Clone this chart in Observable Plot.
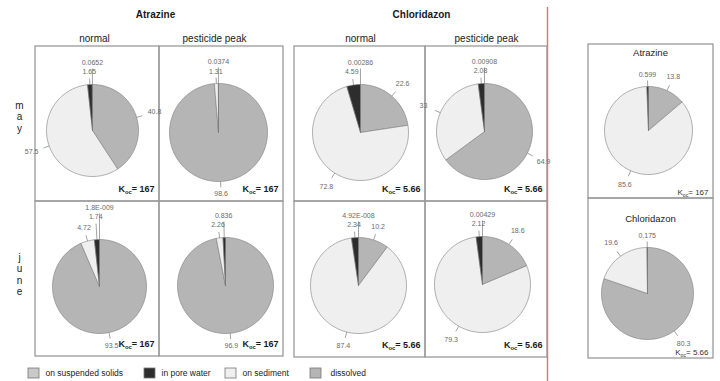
<!DOCTYPE html>
<html><head><meta charset="utf-8">
<script src="https://cdn.jsdelivr.net/npm/d3@7"></script>
<script src="https://cdn.jsdelivr.net/npm/@observablehq/plot@0.6"></script>
<style>body{margin:0;background:#fff}#chart svg{display:block}</style>
</head><body><div id="chart"></div>
<script>
// ---------- data ----------
const fractions = ["on suspended solids", "in pore water", "on sediment", "dissolved"];
const compounds = ["Atrazine", "Chloridazon"];
const scenarios = ["normal", "pesticide peak"];
const months = ["may", "june"];
const kocValues = [167, 5.66];
// percentages per pie, in the order of `fractions` (null = not shown)
const atrazineMayNormal = [0.0652, 1.65, 57.5, 40.8];
const atrazineMayPeak = [null, 0.0374, 1.31, 98.6];
const chloridazonMayNormal = [0.00286, 4.59, 72.8, 22.6];
const chloridazonMayPeak = [0.00908, 2.08, 33, 64.9];
const atrazineJuneNormal = [1.8e-9, 1.74, 4.72, 93.5];
const atrazineJunePeak = [null, 0.836, 2.26, 96.9];
const chloridazonJuneNormal = [4.92e-8, 2.34, 87.4, 10.2];
const chloridazonJunePeak = [0.00429, 2.12, 79.3, 18.6];
const atrazineRight = [null, 0.599, 85.6, 13.8];
const chloridazonRight = [null, 0.175, 19.6, 80.3];

// ---------- layout ----------
const colors = ["#c9c9c9", "#2d2d2d", "#efefef", "#b5b5b5"];
const pies = [
  {values: atrazineMayNormal, cx: 92, cy: 130, r: 46, koc: 0, box: [35, 46, 159, 201]},
  {values: atrazineMayPeak, cx: 218, cy: 132, r: 49, koc: 0, box: [159, 46, 283, 201]},
  {values: chloridazonMayNormal, cx: 360, cy: 132, r: 48, koc: 1, box: [294, 46, 425, 201]},
  {values: chloridazonMayPeak, cx: 484, cy: 131, r: 48, koc: 1, box: [425, 46, 547, 201]},
  {values: atrazineJuneNormal, cx: 99, cy: 286, r: 47, koc: 0, box: [35, 201, 159, 356]},
  {values: atrazineJunePeak, cx: 225, cy: 285, r: 48, koc: 0, box: [159, 201, 283, 356]},
  {values: chloridazonJuneNormal, cx: 358, cy: 285, r: 48, koc: 1, box: [294, 201, 425, 357]},
  {values: chloridazonJunePeak, cx: 482, cy: 284, r: 48, koc: 1, box: [425, 201, 547, 357]},
  {values: atrazineRight, cx: 648, cy: 130, r: 44, koc: 0, box: [588, 44, 713, 198], light: true},
  {values: chloridazonRight, cx: 647, cy: 293, r: 46, koc: 1, box: [588, 198, 713, 358], light: true}
];

const fmt = v => {
  if (v < 1e-4) {
    const e = Math.floor(Math.log10(v));
    return d3.format(".3~g")(v / 10 ** e) + "E-" + String(-e).padStart(3, "0");
  }
  return d3.format(".3~g")(v);
};

const sliceRows = [], labelRows = [], leaderRows = [], kocRows = [];
pies.forEach((p, pi) => {
  const order = [3, 2, 1, 0]; // clockwise from 12 o'clock
  const total = d3.sum(p.values, v => v ?? 0);
  let a0 = 0;
  const placed = [];
  for (const i of order) {
    const v = p.values[i];
    if (v == null) continue;
    const a1 = a0 + v / total * 2 * Math.PI;
    const id = pi + "-" + i;
    const fraction = fractions[i];
    sliceRows.push({id, fraction, x: p.cx, y: p.cy});
    const n = Math.max(1, Math.ceil((a1 - a0) / (Math.PI / 90)));
    for (let k = 0; k <= n; k++) {
      const a = a0 + (a1 - a0) * k / n;
      sliceRows.push({id, fraction, x: p.cx + p.r * Math.sin(a), y: p.cy - p.r * Math.cos(a)});
    }
    sliceRows.push({id, fraction, x: p.cx, y: p.cy});
    const m = (a0 + a1) / 2, s = Math.sin(m), c = Math.cos(m);
    const text = fmt(v);
    const w = text.length * 3.7 + 2, h = 8;
    const d0 = p.r + 12 + 7 * Math.abs(s);
    let d = d0;
    let pos = {x: p.cx + d * s, y: p.cy - d * c};
    while (placed.some(q => Math.abs(q.x - pos.x) < (q.w + w) / 2 && Math.abs(q.y - pos.y) < h + 1)) {
      d += 10;
      pos = {x: p.cx + d * s, y: p.cy - d * c};
    }
    placed.push({...pos, w});
    labelRows.push({x: pos.x, y: pos.y, text});
    const e = p.r + 6 + (d - d0);
    leaderRows.push({x1: p.cx + p.r * s, y1: p.cy - p.r * c, x2: p.cx + e * s, y2: p.cy - e * c});
    a0 = a1;
  }
  kocRows.push({x: p.box[2] - 5, y: p.light ? p.box[3] - 6 : p.box[3] - 12, text: "Koc= " + fmt(kocValues[p.koc]), light: !!p.light});
});

const panelBoxes = pies.map(p => ({x1: p.box[0], y1: p.box[1], x2: p.box[2], y2: p.box[3]}));

const titleRows = [
  {text: compounds[0], x: 155, y: 14}, {text: compounds[1], x: 421, y: 14}
];
const headerRows = [
  {text: scenarios[0], x: 94, y: 38}, {text: scenarios[1], x: 214, y: 38},
  {text: scenarios[0], x: 360, y: 38}, {text: scenarios[1], x: 486, y: 38}
];
const rightTitleRows = [
  {text: compounds[0], x: 650, y: 52}, {text: compounds[1], x: 650, y: 218}
];
const monthLetters = [];
months.forEach((mo, mi) => {
  const y0 = mi === 0 ? 105 : 257;
  [...mo].forEach((ch, k) => monthLetters.push({text: ch, x: 19, y: y0 + k * 11.5}));
});
const legendSwatchX = [28, 144, 225, 310];
const legendTextX = [45, 161, 242, 330];
const legendRows = fractions.map((f, i) => ({fraction: f, x1: legendSwatchX[i], x2: legendSwatchX[i] + 11, y1: 368, y2: 378, tx: legendTextX[i]}));

const svg = Plot.plot({
  width: 720, height: 381,
  margin: 0,
  x: {domain: [0, 720], range: [0, 720], axis: null},
  y: {domain: [0, 381], range: [0, 381], axis: null},
  color: {type: "ordinal", domain: fractions, range: colors},
  style: {fontFamily: "'Liberation Sans', Arial, sans-serif", background: "#fff"},
  marks: [
    Plot.ruleX([547], {y1: 7, y2: 381, stroke: "#f06a6a", strokeWidth: 1.4}),
    Plot.rect(panelBoxes, {x1: "x1", y1: "y1", x2: "x2", y2: "y2", fill: "none", stroke: "#9a9a9a", strokeWidth: 1.3}),
    Plot.line(sliceRows, {x: "x", y: "y", z: "id", fill: "fraction", stroke: "#7c7c7c", strokeWidth: 0.6, curve: "linear"}),
    Plot.link(leaderRows, {x1: "x1", y1: "y1", x2: "x2", y2: "y2", stroke: "#7c7c7c", strokeWidth: 0.7}),
    Plot.text(labelRows, {x: "x", y: "y", text: "text", fontSize: 7, fill: "#6a6a6a"}),
    Plot.text(kocRows.filter(d => !d.light), {x: "x", y: "y", text: "text", textAnchor: "end", fontSize: 9, fontWeight: "bold", fill: "#1a1a1a"}),
    Plot.text(kocRows.filter(d => d.light), {x: "x", y: "y", text: "text", textAnchor: "end", fontSize: 8, fill: "#333"}),
    Plot.text(titleRows, {x: "x", y: "y", text: "text", fontSize: 10, fontWeight: "bold", fill: "#1a1a1a"}),
    Plot.text(headerRows, {x: "x", y: "y", text: "text", fontSize: 10, fill: "#222"}),
    Plot.text(rightTitleRows, {x: "x", y: "y", text: "text", fontSize: 9.5, fill: "#222"}),
    Plot.text(monthLetters, {x: "x", y: "y", text: "text", fontSize: 10, fill: "#222"}),
    Plot.rect(legendRows, {x1: "x1", x2: "x2", y1: "y1", y2: "y2", fill: "fraction", stroke: "#777", strokeWidth: 0.8}),
    Plot.text(legendRows, {x: "tx", y: 373, text: "fraction", textAnchor: "start", fontSize: 8.5, fill: "#222"})
  ]
});

d3.select(svg).selectAll("text").filter(function () { return this.textContent.startsWith("Koc"); }).each(function () {
  const rest = this.textContent.slice(3);
  const t = d3.select(this);
  t.text(null);
  t.append("tspan").text("K");
  t.append("tspan").attr("font-size", "0.65em").attr("dy", "2").text("oc");
  t.append("tspan").attr("dy", "-2").text(rest);
});

document.getElementById("chart").appendChild(svg);
</script>
</body></html>
